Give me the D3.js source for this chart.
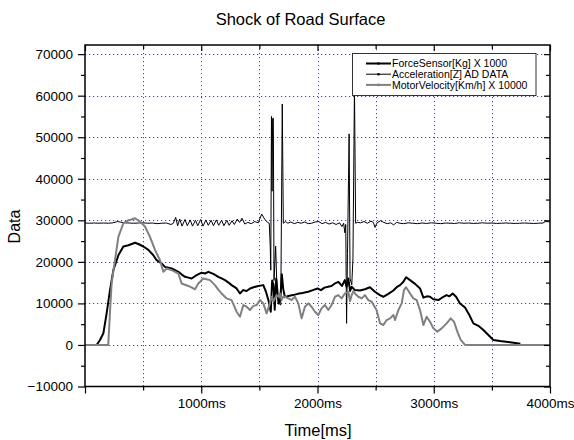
<!DOCTYPE html>
<html><head><meta charset="utf-8">
<script src="https://cdn.jsdelivr.net/npm/d3@7"></script>
<style>
body{margin:0;background:#fff;}
text{font-family:"Liberation Sans",Arial,sans-serif;fill:#000;}
</style></head>
<body><svg id="c" width="574" height="440"></svg>
<script>
// ---- data (time ms, value) ----
const seriesNames = ["ForceSensor[Kg] X 1000", "Acceleration[Z] AD DATA", "MotorVelocity[Km/h] X 10000"];
const forceData = [[0,0],[100,0],[129,1200],[158,2800],[186,7600],[215,13200],[244,18000],[287,21600],[330,23700],[373,24000],[430,24600],[459,24300],[502,23700],[545,22900],[588,21600],[616,20400],[659,19600],[688,18800],[745,18400],[775,18000],[803,17600],[830,17000],[860,16400],[890,16200],[917,16000],[960,16800],[1003,17400],[1035,17200],[1061,17600],[1104,17100],[1147,16400],[1175,16000],[1204,15600],[1235,15000],[1261,14400],[1304,13600],[1333,12400],[1360,13200],[1390,13000],[1420,13600],[1450,13900],[1491,14200],[1534,14400],[1557,12800],[1580,10500],[1598,8000],[1610,15500],[1622,14500],[1632,8500],[1645,16000],[1655,13000],[1665,10000],[1680,11000],[1693,17000],[1705,13500],[1720,11500],[1750,11800],[1790,12000],[1830,12300],[1870,12500],[1920,12800],[1960,13200],[2000,13600],[2030,13200],[2060,13800],[2090,14000],[2120,14200],[2150,14800],[2180,15200],[2210,14200],[2235,15600],[2250,14000],[2265,16000],[2280,13000],[2294,14000],[2322,13200],[2365,13100],[2408,13400],[2451,13900],[2494,12800],[2537,12000],[2566,11600],[2609,12300],[2653,13100],[2681,13900],[2710,14400],[2739,15200],[2762,16300],[2796,15600],[2839,14700],[2882,13600],[2911,11400],[2940,11700],[2968,11600],[2997,11000],[3040,10800],[3083,11600],[3110,12000],[3135,11700],[3163,12400],[3192,11600],[3226,10000],[3269,9000],[3306,7200],[3341,5200],[3384,4600],[3427,3600],[3470,2400],[3513,1200],[3570,950],[3656,640],[3745,300]];
const accelData = [[0,29350],[40,29300],[80,29350],[120,29300],[160,29350],[200,29300],[240,29400],[280,29700],[300,29600],[340,29400],[380,29350],[420,29300],[460,29350],[500,29400],[540,29300],[580,29350],[620,29200],[660,29300],[700,29350],[740,29000],[760,29300],[780,30700],[797,28700],[815,30300],[835,28600],[860,30200],[880,28700],[905,30100],[925,28600],[950,30000],[970,28700],[995,30200],[1015,28600],[1040,30100],[1060,28800],[1085,30000],[1105,28700],[1130,30100],[1150,28800],[1175,30000],[1195,28700],[1220,30000],[1240,28800],[1265,29900],[1285,29000],[1310,30300],[1330,29500],[1350,30500],[1375,29100],[1400,29500],[1430,29200],[1460,29700],[1490,29400],[1520,31500],[1545,30300],[1570,29500],[1585,29300],[1593,24000],[1598,18000],[1604,55000],[1609,37000],[1614,54500],[1620,54600],[1626,15500],[1640,23800],[1652,13000],[1668,10000],[1684,9600],[1697,58000],[1706,29300],[1725,29700],[1745,29300],[1770,29600],[1800,29200],[1830,29500],[1860,29300],[1890,29600],[1920,29200],[1950,29300],[1980,29600],[2010,29700],[2040,29200],[2070,29500],[2100,29100],[2130,29400],[2160,29000],[2190,29400],[2210,28500],[2225,29300],[2235,27000],[2243,29000],[2250,5200],[2258,22000],[2272,50800],[2280,16000],[2295,14500],[2305,21000],[2318,62000],[2328,29300],[2345,29500],[2370,29400],[2400,29700],[2430,29300],[2460,29800],[2480,29500],[2495,28300],[2510,29300],[2540,29900],[2570,29500],[2600,29200],[2630,29400],[2655,28900],[2680,29500],[2710,29300],[2740,29200],[2780,29400],[2820,29300],[2860,29200],[2900,29350],[2940,29250],[2980,29400],[3020,29300],[3060,29200],[3100,29350],[3140,29300],[3180,29250],[3220,29400],[3260,29300],[3300,29350],[3340,29250],[3380,29300],[3420,29400],[3460,29300],[3500,29350],[3540,29250],[3580,29300],[3620,29350],[3660,29300],[3700,29250],[3740,29300],[3780,29350],[3820,29300],[3860,29250],[3900,29300],[3940,29350],[3960,29700],[4000,29650]];
const motorData = [[0,0],[200,0],[215,8000],[229,14800],[258,20400],[287,26000],[330,29300],[373,30000],[400,30200],[430,30500],[473,29700],[516,28500],[559,26000],[602,22900],[645,20400],[674,17600],[702,18400],[745,18000],[775,17600],[803,17200],[831,14800],[860,14500],[889,14200],[920,13800],[946,13400],[975,14800],[1018,16000],[1045,15800],[1075,15600],[1118,14400],[1150,13200],[1175,12400],[1218,11200],[1261,10800],[1304,8000],[1333,6800],[1362,9600],[1390,9200],[1419,8400],[1448,9400],[1476,9600],[1505,10800],[1534,10000],[1562,7600],[1591,10000],[1605,11600],[1620,10500],[1634,11200],[1648,12000],[1663,11600],[1677,12400],[1691,10800],[1705,11600],[1720,11600],[1749,11200],[1777,10800],[1806,11600],[1835,10000],[1863,6400],[1892,9200],[1921,10000],[1949,9200],[1978,8000],[2007,7200],[2035,8800],[2064,9600],[2093,8400],[2121,9600],[2150,11600],[2179,12000],[2207,11200],[2236,12400],[2265,12800],[2280,10500],[2294,12000],[2310,13000],[2322,12400],[2351,11600],[2380,11200],[2408,12000],[2437,10800],[2466,10400],[2508,8400],[2538,5200],[2567,4800],[2595,6000],[2624,6400],[2653,7200],[2667,6000],[2696,8400],[2724,10000],[2744,13200],[2762,13900],[2796,12400],[2825,11200],[2853,10800],[2882,8400],[2911,4800],[2939,6800],[2968,5600],[2997,4000],[3031,3200],[3068,4000],[3111,5200],[3146,6400],[3174,5600],[3203,3200],[3232,1200],[3269,0],[4000,0]];
const xDomain = [0, 4000];
const yDomain = [-10000, 72200];
const xMajorTicks = [0, 1000, 2000, 3000, 4000];
const xTickLabels = ["", "1000ms", "2000ms", "3000ms", "4000ms"];
const xMinorTicks = [500, 1500, 2500, 3500];
const xGrid = [500, 1000, 1500, 2000, 2500, 3000, 3500];
const yMajorTicks = [-10000, 0, 10000, 20000, 30000, 40000, 50000, 60000, 70000];
const yMinorTicks = [-5000, 5000, 15000, 25000, 35000, 45000, 55000, 65000];
const yGrid = [0, 10000, 20000, 30000, 40000, 50000, 60000, 70000];
const titleText = "Shock of Road Surface";
const xTitle = "Time[ms]";
const yTitle = "Data";

// ---- layout ----
const L = 85, R = 550, T = 45, B = 386.5;
const svg = d3.select("#c");
const x = d3.scaleLinear().domain(xDomain).range([L, R]);
const y = d3.scaleLinear().domain(yDomain).range([B, T]);

// grid
const grid = svg.append("g").attr("stroke", "#3a3aff").attr("stroke-width", 1).attr("stroke-dasharray", "1.2,2.8");
grid.selectAll("line.h").data(yGrid).join("line").attr("class","h")
  .attr("x1", L).attr("x2", R).attr("y1", d => Math.round(y(d))+0.5).attr("y2", d => Math.round(y(d))+0.5);
grid.selectAll("line.v").data(xGrid).join("line").attr("class","v")
  .attr("y1", T).attr("y2", B).attr("x1", d => Math.round(x(d))+0.5).attr("x2", d => Math.round(x(d))+0.5);

// series
const line = d3.line().x(d => x(d[0])).y(d => y(d[1]));
const plot = svg.append("g");
plot.append("path").datum(forceData).attr("d", line).attr("fill","none").attr("stroke","#000").attr("stroke-width",2).attr("stroke-linejoin","round");
plot.append("path").datum(accelData).attr("d", line).attr("fill","none").attr("stroke","#000").attr("stroke-width",1).attr("stroke-linejoin","round");
plot.append("path").datum(motorData).attr("d", line).attr("fill","none").attr("stroke","#808080").attr("stroke-width",2).attr("stroke-linejoin","round");

// axes
const axes = svg.append("g");
axes.append("g").attr("transform", `translate(0,${B})`)
  .call(d3.axisBottom(x).tickValues(xMajorTicks).tickSize(7).tickFormat((d,i) => xTickLabels[i]))
  .call(g => g.selectAll("text").attr("font-size", 13.5).attr("y", 12).attr("font-family", "Liberation Sans, Arial, sans-serif"));
axes.append("g").attr("transform", `translate(0,${B})`)
  .call(d3.axisBottom(x).tickValues(xMinorTicks).tickSize(4).tickFormat(""));
axes.append("g").attr("transform", `translate(${L},0)`)
  .call(d3.axisLeft(y).tickValues(yMajorTicks).tickSize(7).tickFormat(d3.format("d")))
  .call(g => g.selectAll("text").attr("font-size", 13.5).attr("x", -12).attr("font-family", "Liberation Sans, Arial, sans-serif"));
axes.append("g").attr("transform", `translate(${L},0)`)
  .call(d3.axisLeft(y).tickValues(yMinorTicks).tickSize(4).tickFormat(""));
axes.append("g").attr("transform", `translate(0,${T})`)
  .call(d3.axisBottom(x).tickValues(xMajorTicks).tickSize(6).tickFormat(""));
axes.append("g").attr("transform", `translate(0,${T})`)
  .call(d3.axisBottom(x).tickValues(xMinorTicks).tickSize(4).tickFormat(""));
axes.append("g").attr("transform", `translate(${R},0)`)
  .call(d3.axisLeft(y).tickValues(yMajorTicks).tickSize(6).tickFormat(""));
axes.append("g").attr("transform", `translate(${R},0)`)
  .call(d3.axisLeft(y).tickValues(yMinorTicks).tickSize(4).tickFormat(""));
axes.selectAll(".domain").remove();
axes.selectAll(".tick line").attr("stroke", "#000").attr("stroke-width", 1.2);
svg.append("rect").attr("x", L).attr("y", T).attr("width", R-L).attr("height", B-T)
  .attr("fill", "none").attr("stroke", "#000").attr("stroke-width", 1.5);

// legend
const lg = svg.append("g");
lg.append("rect").attr("x", 352.5).attr("y", 53.5).attr("width", 183.5).attr("height", 42)
  .attr("fill", "#fff").attr("stroke", "#333").attr("stroke-width", 1);
const legStyles = [{c:"#000", w:2}, {c:"#000", w:1}, {c:"#808080", w:2}];
seriesNames.forEach((name, i) => {
  const yy = 63.5 + i * 10.7;
  lg.append("line").attr("x1", 366).attr("x2", 391).attr("y1", yy).attr("y2", yy)
    .attr("stroke", legStyles[i].c).attr("stroke-width", legStyles[i].w);
  lg.append("circle").attr("cx", 378.5).attr("cy", yy).attr("r", 1.3).attr("fill", legStyles[i].c);
  lg.append("text").attr("x", 392).attr("y", yy + 3.8).attr("font-size", 10.5).text(name);
});

// titles
svg.append("text").attr("x", 300.5).attr("y", 25).attr("text-anchor", "middle").attr("font-size", 16.5).text(titleText);
svg.append("text").attr("x", 318).attr("y", 436).attr("text-anchor", "middle").attr("font-size", 16.5).text(xTitle);
svg.append("text").attr("transform", "translate(20,226.5) rotate(-90)").attr("text-anchor", "middle").attr("font-size", 16).text(yTitle);
</script></body></html>
